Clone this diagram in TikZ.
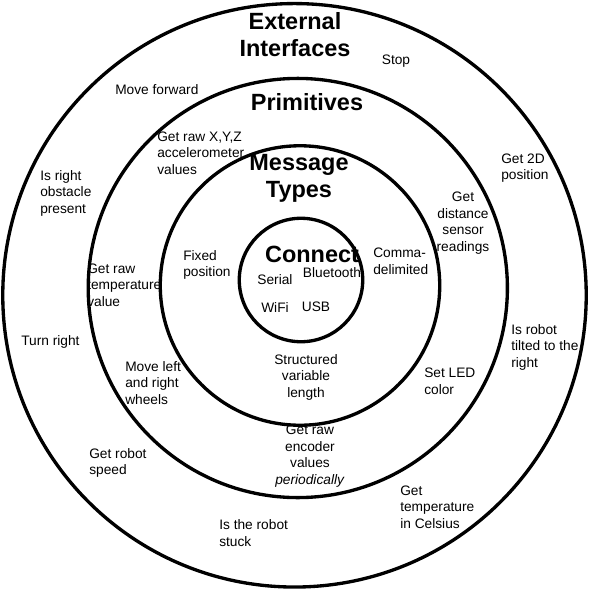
\documentclass[tikz,border=0pt]{standalone}
\usepackage{fontspec}
\setmainfont{Liberation Sans}
\tikzset{myring/.style={draw,circle,line width=2.5pt,inner sep=0pt},
  mytitle/.style={font=\fontsize{17.6}{20.2}\selectfont\bfseries,align=center,inner sep=0pt},
  mylabel/.style={font=\fontsize{10.3}{12.4}\selectfont,align=left,anchor=west,inner sep=0pt},
  mymid/.style={mylabel,align=center,anchor=center}
}

\begin{document}
\begin{tikzpicture}[x=0.75pt,y=-0.75pt]
  \useasboundingbox (0,0) rectangle (590,590);

  % Rings
    \node[myring, minimum size=437.6pt] (ext) at (294.5,295.3) {};
    \node[myring, minimum size=314.4pt] (prim) at (297.8,288) {};
    \node[myring, minimum size=209.6pt] (msg) at (300,285.5) {};
    \node[myring, minimum size=92.6pt] (conn) at (301,280) {};

    % Titles
    \node[mytitle] (extT) at (295,35) {External\\Interfaces};
    \node[mytitle] (primT) at (307,102) {Primitives};
    \node[mytitle] (msgT) at (299,178) {Message\\Types};
    \node[mytitle] (connT) at (312,254) {Connect};

    % External interfaces
    \node[mylabel] (fwd) at (115,90) {Move forward};
    \node[mymid] (stop) at (396,61) {Stop};
    \node[mylabel] (pos) at (501,168) {Get 2D\\position};
    \node[mylabel] (obst) at (40,193) {Is right\\obstacle\\present};
    \node[mylabel] (turn) at (21,342) {Turn right};
    \node[mylabel] (tilt) at (511,347) {Is robot\\tilted to the\\right};
    \node[mylabel] (speed) at (89,463) {Get robot\\speed};
    \node[mylabel] (stuck) at (219,533) {Is the robot\\stuck};
    \node[mylabel] (cels) at (400,507) {Get\\temperature\\in Celsius};

    % Primitives
    \node[mylabel] (accel) at (157,153) {Get raw X,Y,Z\\accelerometer\\values};
    \node[mylabel] (temp) at (87,285) {Get raw\\temperature\\value};
    \node[mylabel] (wheels) at (125,383) {Move left\\and right\\wheels};
    \node[mymid] (enc) at (310,456) {Get raw\\encoder\\values\\\textit{periodically}};
    \node[mylabel] (led) at (424,381) {Set LED\\color};
    \node[mymid] (dist) at (463,223) {Get\\distance\\sensor\\readings};

    % Message types
    \node[mylabel] (fixed) at (183,265) {Fixed\\position};
    \node[mylabel] (comma) at (373,261) {Comma-\\delimited};
    \node[mymid] (struct) at (306,377) {Structured\\variable\\length};

    % Connect
    \node[mymid] (serial) at (275,280) {Serial};
    \node[mymid] (bt) at (332,273) {Bluetooth};
    \node[mymid] (wifi) at (275,308) {WiFi};
    \node[mymid] (usb) at (316,307) {USB};

\end{tikzpicture}
\end{document}
